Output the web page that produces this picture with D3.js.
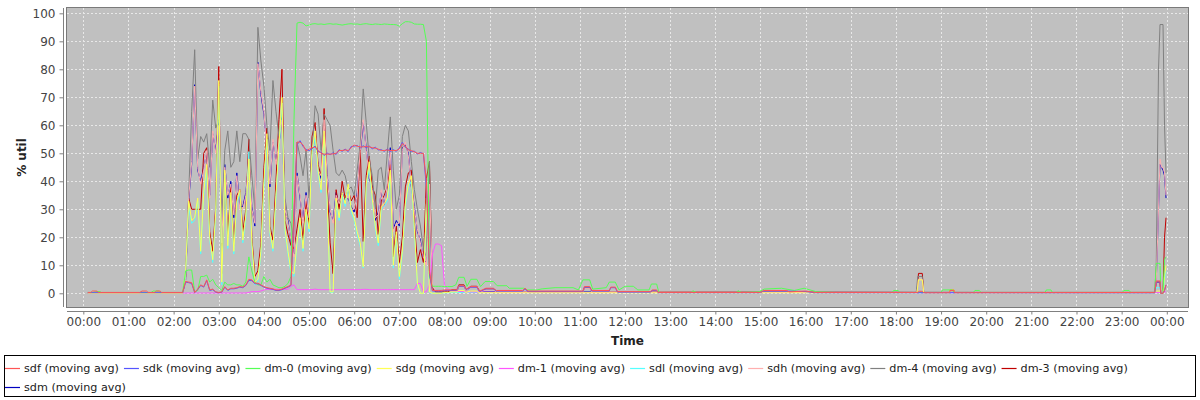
<!DOCTYPE html>
<html><head><meta charset="utf-8">
<script src="https://cdn.jsdelivr.net/npm/d3@7"></script>
<style>body{margin:0;background:#fff}svg{display:block}text{font-family:"DejaVu Sans",sans-serif}</style>
</head><body>
<svg id="chart" width="1200" height="400"></svg>
<script>
// ---------------- DATA ----------------
const seriesNames = ["sdf","sdk","dm-0","sdg","dm-1","sdl","sdh","dm-4","dm-3","sdm"];
const yTicks = [0,10,20,30,40,50,60,70,80,90,100];
const xTickLabels = ["00:00","01:00","02:00","03:00","04:00","05:00","06:00","07:00","08:00","09:00","10:00","11:00","12:00","13:00","14:00","15:00","16:00","17:00","18:00","19:00","20:00","21:00","22:00","23:00","00:00"];
const xTickMinutes = [0,60,120,180,240,300,360,420,480,540,600,660,720,780,840,900,960,1020,1080,1140,1200,1260,1320,1380,1440];

// busy period sampled every 4 minutes from 02:16 to 08:04 (minutes since midnight)
const busyTimes = d3.range(136, 488, 4);

const sdfBusy = [4.2,4,3.8,0.3,1.5,3,2.4,4.8,1.2,1.5, 0.5,0.3,0.5,2.4,1.2,1.8,1.8,2,2.4,2.2, 3,5,4.8,3.6,3.6,3,2.4,2,1.8,1.6, 1.2,1.2,1.5,2,2.4,3,30,54,54,53, 50.8,51.5,52,52.3,51,50,49.7,49.7,49.7,49.8, 50,51,51,51.2,51,52,53,52.5,52.3,52.3, 52.4,52.3,52,51.8,51.5,51,51,51.2,51,51, 51,51.5,53.5,52.5,51.2,51,50.5,50,50,50, 40,8,1,1,1,1,1.2,1.2];
const sdkBusy = [4,3.8,3.5,0.3,1.3,2.8,2.2,4.5,1,1.3, 0.4,0.2,0.4,2.2,1,1.6,1.6,1.8,2.2,2, 2.8,4.6,4.5,3.4,3.4,2.8,2.2,1.8,1.6,1.4, 1,1,1.3,1.8,2.2,2.8,28,53,54.5,52.5, 51.3,51,51.6,52.6,50.6,50.4,49.2,50.1,49.5,50.2, 49.6,51.3,50.7,51.5,50.6,52.4,52.6,52.8,51.9,52.7, 52,52.6,51.6,52.2,51.2,51.3,50.7,51.5,50.6,51.3, 50.7,51.9,53.9,52.2,51.5,50.6,50.8,49.7,50.3,49.8, 38,7,0.8,0.8,0.8,0.8,1,1];
const dm0Busy = [8,8.3,8.3,0.5,1,6,6,6.5,4,5, 3,2,1,4,3,3,3.5,3,3,2.5, 4,13,8,4,3,3,6,4,5,3, 2.5,2,2,2.5,3.5,6,62,96.5,96.8,96.5, 95.5,95.8,96.2,96.3,96.1,96.2,96,96.2,96.3,96.1, 96.2,96,95.8,96,96.2,96.3,96.1,96.2,96,96.2, 96.3,96.1,96,96.2,96.1,96,96.2,96.1,96,96, 95.9,95.4,96.3,97,97,96.8,96.2,96.1,96.1,96, 90,6,2.5,2.5,2.5,2.5,2.4,2.4];
const sdgBusy = [8,33,26,27,34,15,36,46,20,12, 29,76,4,44,17,36,15,33,37,19, 28,48,18,4,5,15,40,57,22,16, 35,53,70,23,15,8,7,18,27,16, 30,23,51,58,44,37,58,34,0.5,0.5, 34,27,36,32,39,30,27,22,18,9.5, 39,47,34,24,18,31,32,34,44,10, 22,6,15,32,39,42,23,3.6,0,0, 34,0.5,0,0,0,0,0.3,0.3];
const dm1Busy = [0.1,0.1,0.1,0.1,0.1,0.1,0.1,0.1,0.1,0.1, 0.1,0.1,0.1,0.1,0.1,0.1,0.1,0.1,0.1,0.1, 0.1,0.3,0.6,0.6,0.6,0.8,1.2,1.4,1.4,1.4, 1.4,1.4,1.4,1.4,1.4,2.5,3,1.3,1.3,1.3, 1.3,1.3,1.3,1.5,1.3,1.3,1.3,1.3,1.3,1.3, 1.3,1.3,1.3,1.3,1.3,1.3,1.3,1.3,1.3,1.4, 1.4,1.3,1.3,1.3,1.3,1.3,1.3,1.3,1.3,1.3, 1.3,1.3,1.3,1.3,1.3,1.3,1.3,3.5,3.5,0.5, 0.5,3,14,17.6,17.6,17,3,1.5];
const sdlBusy = [7,31,25,26,33,14,35,44,19,11, 28,74,3,42,16,35,14,32,36,18, 27,50.6,17,3,4,14,38,55,21,15, 34,51,68,22,14,7,6,17,26,15, 29,22,49,56,43,36,56,33,0.3,0.3, 33,26,35,31,38,29,26,21,17,9, 38,45,33,23,17,30,31,33,42,9, 21,5,14,31,38,40,22,3,0,0, 32,0.3,0,0,0,0,0.2,0.2];
const sdhBusy = [5,34,47,74,45,39,44,51,34,58, 50,60,18,45,35,39,28,42,30,30, 35,48,30,25,82,72,65,51,39,55, 46,54,62,30,25,19,13,42,35,25, 35,27,48,58,44,42,62,42,30,25, 35,32,35,32,35,30,30,35,51,62, 51,42,37,27,28,37,30,39,51,22, 25,25,51,54,49,39,30,23,18,13, 10,39,3,1,1,1,1,1];
const dm4Busy = [6,35,65,87,48,56,54,57,45,69, 59,62,25,51,58,45,47,58,47,57, 57,55,42,30,95,83,74,60,51,76, 65,56,65,34,27,25,18,54,49,42, 51,34,51,67,64,51,64,62,60,51, 43,42,44,42,37,38,35,44,53,73, 61,48,42,30,44,45,37,50,63,44, 30,35,56,60,58,47,37,30,24,16, 13,47,2,1,1,1,1,1];
const dm3Busy = [6,34,30,30,30,30,50,52,22,15, 31,81,7,42,20,38,17,35,37,22, 30,55,20,6,8,18,45,59,24,19, 40,62,80,26,21,17,16,23,30,19, 33,24,56,61,46,42,66,39,18,7, 37,30,40,34,37,33,35,27,52,18.5, 42,49,38,35,21,33,35,38,46,13, 24,11,20,38,43,44,25,11,15.6,11, 41,47,2,0.5,0.5,0.5,0.5,0.5];
const sdmBusy = [5,33,46,74.5,44,40,45,50,35,57, 51,61,17,46,34,40,27,43,31,31, 36,47,31,24,82.5,71,64,52,38,54, 47,53,63,29,26,18,14,43,34,26, 36,26,49,57,45,41,61,43,29,26, 36,31,36,33,34,31,29,36,50,61, 52,41,38,26,29,36,31,38,52,23, 26,24,52,53,50,38,31,22,19,12, 11,38,2,1,1,1,1,1];

// quiet periods: [minute, value]
const sdfQuiet = [[6,0.3],[10,0.3],[12,0.8],[18,0.8],[20,0.3],[75,0.3],[78,0.8],[84,0.8],[86,0.3],[95,0.3],[97,0.8],[102,0.8],[104,0.3],[132,0.3],
 [490,1.2],[496,1.2],[499,2.7],[506,2.7],[509,1.5],[515,2.4],[523,2.4],[527,0.8],[535,1.8],[545,1.8],[549,1],[584,1],[587,1.8],[591,0.8],[664,0.8],[666,2.4],[673,2.4],[676,1],[699,1],[701,2.2],[707,2.2],[710,0.6],[754,0.6],[756,1.2],[762,1.2],[764,0.3],[900,0.3],[904,1],[935,1],[938,0.5],[960,0.8],[972,0.3],[1109,0.3],[1111,0.7],[1115,0.7],[1117,0.2],[1151,0.2],[1152,1],[1157,1],[1158,0.2],[1424,0.3],
 [1426,4.4],[1431,4.4],[1432,0],[1435,0],[1437,1],[1439,3]];
const sdkQuiet = [[6,0.2],[132,0.2],
 [490,1],[496,1],[499,2.5],[506,2.5],[509,1.3],[515,2.2],[523,2.2],[527,0.6],[535,1.6],[545,1.6],[549,0.8],[584,0.8],[587,1.6],[591,0.6],[664,0.6],[666,2.2],[673,2.2],[676,0.8],[699,0.8],[701,2],[707,2],[710,0.4],[754,0.4],[756,1],[762,1],[764,0.2],[900,0.2],[904,0.8],[935,0.8],[960,0.6],[972,0.2],[1424,0.2],
 [1426,4],[1431,4],[1432,0],[1435,0],[1437,1],[1439,3]];
const dm0Quiet = [[6,0.3],[14,0.3],[16,0.6],[22,0.6],[24,0.3],[90,0.3],[93,0.8],[100,0.8],[102,0.3],[132,0.3],
 [490,2.4],[495,3],[499,5.7],[506,5.7],[510,2.5],[515,5],[523,5],[528,2.4],[534,4.2],[545,4.2],[550,2.7],[563,2.7],[566,1.8],[585,1.8],[590,1.2],[603,1.2],[610,1.6],[627,2],[651,2],[658,1.2],[664,4.8],[673,4.8],[677,1.5],[695,2],[699,4],[707,4],[712,1.2],[720,2.5],[731,2.5],[737,1.2],[752,1.2],[755,3.3],[762,3.3],[765,0.3],[808,0.3],[810,0.9],[815,0.3],[868,0.3],[870,0.9],[875,0.3],[898,0.5],[905,1.5],[928,1.8],[945,1],[958,1.8],[975,0.5],[1000,0.3],[1075,0.3],[1077,1],[1083,1],[1085,0.3],[1140,0.3],[1142,1.2],[1155,1.2],[1157,0.3],[1183,0.3],[1185,1],[1191,1],[1193,0.3],[1278,0.3],[1280,1.2],[1286,1.2],[1288,0.3],[1381,0.3],[1383,1],[1390,1],[1392,0.3],[1424,0.3],
 [1426,10.7],[1431,10.7],[1432,0],[1435,0],[1437,12],[1439,13]];
const sdgQuiet = [[6,0],[132,0],
 [490,0.5],[497,0.5],[499,1],[506,1],[508,0.3],[515,0.8],[523,0.8],[525,0.2],[1108,0.2],[1110,4.8],[1115,4.8],[1117,0.2],[1151,0.2],[1152,1.2],[1157,1.2],[1158,0.2],[1424,0.2],
 [1426,0.8],[1431,0.8],[1432,0],[1435,0],[1437,6],[1439,10]];
const dm1Quiet = [[6,0],[132,0],[490,0.8],[510,0.5],[560,0.3],[1424,0.2],[1437,0.5],[1439,0.5]];
const sdlQuiet = [[6,0],[132,0],[490,0.3],[1424,0.2],[1426,2],[1431,2],[1432,0],[1435,0],[1437,5],[1439,8]];
const sdhQuiet = [[6,0],[132,0],
 [490,1],[497,1],[499,2.5],[506,2.5],[509,1],[515,2.2],[523,2.2],[527,0.5],[535,1.2],[545,1.2],[549,0.5],[664,0.5],[666,1.8],[673,1.8],[676,0.5],[1108,0.3],[1110,5],[1115,5],[1117,0.3],[1424,0.2],
 [1426,4],[1429,30],[1431,48],[1433,45],[1435,45],[1437,43],[1439,35]];
const dm4Quiet = [[6,0],[132,0],
 [490,1],[497,1],[499,2.8],[506,2.8],[509,1],[515,2.4],[523,2.4],[527,0.5],[535,1.4],[545,1.4],[549,0.5],[664,0.5],[666,2],[673,2],[676,0.5],[1107,0.3],[1109,6],[1115,6],[1117,0.3],[1424,0.3],
 [1426,10],[1429,80],[1431,96],[1435,96],[1437,60],[1439,43]];
const dm3Quiet = [[6,0],[132,0],
 [490,1.2],[497,1.2],[499,3],[506,3],[509,1.2],[515,2.5],[523,2.5],[527,0.5],[535,1.5],[545,1.5],[549,0.5],[664,0.5],[666,2],[673,2],[676,0.5],[1108,0.3],[1110,7.1],[1115,7.1],[1117,0.3],[1151,0.3],[1152,1.2],[1157,1.2],[1158,0.3],[1424,0.3],
 [1426,4],[1431,4],[1432,0],[1435,0],[1437,20],[1439,27]];
const sdmQuiet = [[6,0],[132,0],
 [490,1],[497,1],[499,2.5],[506,2.5],[509,1],[515,2.2],[523,2.2],[527,0.5],[1424,0.2],
 [1426,4],[1429,30],[1431,46],[1435,44],[1437,42],[1439,34]];

// ---------------- BUILD ----------------
const busyBySeries = [sdfBusy,sdkBusy,dm0Busy,sdgBusy,dm1Busy,sdlBusy,sdhBusy,dm4Busy,dm3Busy,sdmBusy];
const quietBySeries = [sdfQuiet,sdkQuiet,dm0Quiet,sdgQuiet,dm1Quiet,sdlQuiet,sdhQuiet,dm4Quiet,dm3Quiet,sdmQuiet];
const colors = ["#ff5555","#5555ff","#55ff55","#ffff55","#ff55ff","#55ffff","#ffafaf","#808080","#c00000","#0000c0"];

const series = seriesNames.map((name,i) => {
  const pts = quietBySeries[i].map(d => ({t:d[0], v:d[1]}))
    .concat(busyBySeries[i].map((v,k) => ({t:busyTimes[k], v})));
  pts.sort((a,b) => a.t - b.t);
  return {name, color: colors[i], pts};
});

const svg = d3.select("#chart");
const plot = {l:67, t:8, r:1188, b:307};
const x = d3.scaleLinear().domain([-21.7, 1468.2]).range([plot.l, plot.r]);
const y = d3.scaleLinear().domain([-4.9, 101.9]).range([plot.b, plot.t]);

svg.append("rect").attr("x",plot.l).attr("y",plot.t).attr("width",plot.r-plot.l).attr("height",plot.b-plot.t).attr("fill","#c0c0c0");

const grid = svg.append("g").attr("stroke","#e8e8e8").attr("stroke-width",1).attr("stroke-dasharray","2,2");
grid.selectAll("line.v").data(xTickMinutes).join("line")
  .attr("x1",d=>Math.round(x(d))+0.5).attr("x2",d=>Math.round(x(d))+0.5).attr("y1",plot.t).attr("y2",plot.b);
grid.selectAll("line.h").data(yTicks).join("line")
  .attr("y1",d=>Math.round(y(d))+0.5).attr("y2",d=>Math.round(y(d))+0.5).attr("x1",plot.l).attr("x2",plot.r);

svg.append("clipPath").attr("id","clip").append("rect")
  .attr("x",plot.l).attr("y",plot.t).attr("width",plot.r-plot.l).attr("height",plot.b-plot.t);

const line = d3.line().x(d=>x(d.t)).y(d=>y(d.v));
const lines = svg.append("g").attr("clip-path","url(#clip)");
series.slice().reverse().forEach(s => {
  lines.append("path").attr("d", line(s.pts)).attr("fill","none")
    .attr("stroke", s.color).attr("stroke-width",1).attr("stroke-linejoin","bevel");
});

svg.append("rect").attr("x",plot.l-0.5).attr("y",plot.t-0.5).attr("width",plot.r-plot.l+1).attr("height",plot.b-plot.t+1)
  .attr("fill","none").attr("stroke","#7a7a7a").attr("stroke-width",1);

const yAxis = svg.append("g").attr("transform",`translate(63.5,0)`)
  .call(d3.axisLeft(y).tickValues(yTicks).tickSize(4).tickPadding(4).tickSizeOuter(0));
const xAxis = svg.append("g").attr("transform",`translate(0,311.5)`)
  .call(d3.axisBottom(x).tickValues(xTickMinutes).tickFormat((d,i)=>xTickLabels[i]).tickSize(3).tickPadding(3).tickSizeOuter(0));
[yAxis,xAxis].forEach(a => {
  a.select(".domain").attr("stroke","#808080");
  a.selectAll(".tick line").attr("stroke","#808080");
  a.selectAll(".tick text").attr("fill","#444").attr("font-size","12px").attr("font-family","DejaVu Sans");
});
yAxis.select(".domain").attr("d",`M0,${plot.t}V${plot.b}`);
xAxis.select(".domain").attr("d",`M${plot.l},0H${plot.r}`);

svg.append("text").attr("transform","translate(26,157.5) rotate(-90)").attr("text-anchor","middle")
  .attr("font-size","12px").attr("font-weight","bold").attr("fill","#222").text("% util");
svg.append("text").attr("x",(plot.l+plot.r)/2).attr("y",345).attr("text-anchor","middle")
  .attr("font-size","12px").attr("font-weight","bold").attr("fill","#222").text("Time");

// legend: items flow left to right, wrapping onto a second row
svg.append("rect").attr("x",4.5).attr("y",355.5).attr("width",1191).attr("height",41)
  .attr("fill","#fff").attr("stroke","#000").attr("stroke-width",1);
const lg = svg.append("g");
let lx = 5, row = 0;
series.forEach((s,i) => {
  const g = lg.append("g");
  g.append("line").attr("x1",0).attr("x2",15).attr("y1",0.5).attr("y2",0.5).attr("stroke",s.color).attr("stroke-width",1.2);
  const t = g.append("text").attr("x",19).attr("y",0).attr("dy","0.35em").attr("font-size","11.2px").attr("fill","#222")
    .text(`${s.name} (moving avg)`);
  const w = t.node().getComputedTextLength();
  if (lx + 19 + w > 1150) { lx = 5; row++; }
  g.attr("transform",`translate(${lx},${368 + row*19})`);
  lx += 19 + w + 5;
});
</script>
</body></html>
